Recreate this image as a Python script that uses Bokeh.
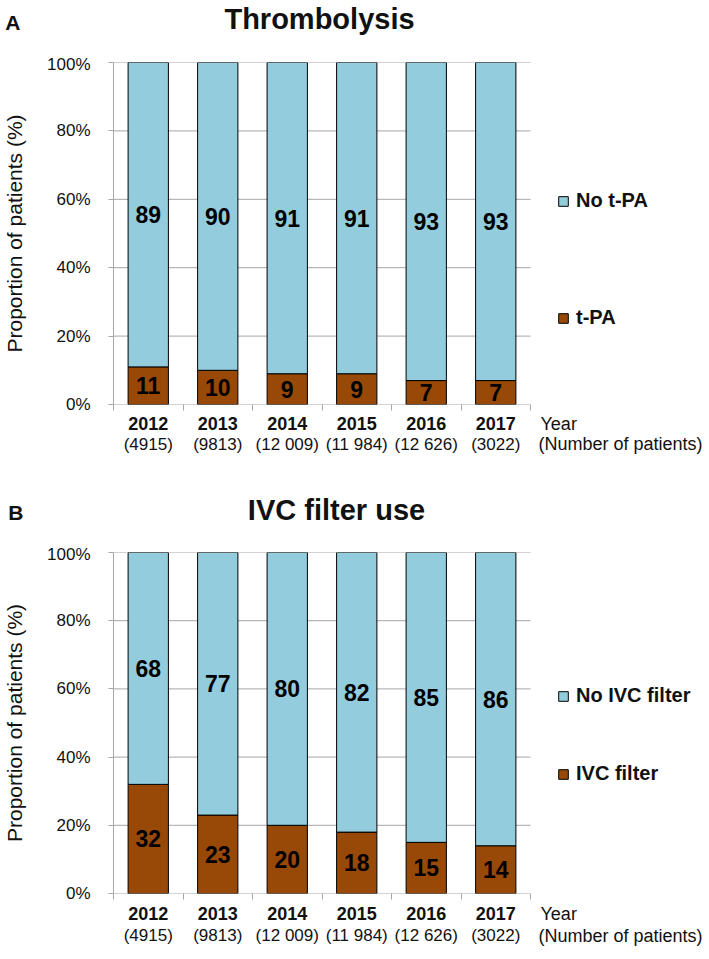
from bokeh.plotting import figure
from bokeh.models import (Range1d, LinearAxis, FixedTicker,
                          NumeralTickFormatter, Legend, LegendItem, ColumnDataSource)
from bokeh.layouts import column
from bokeh.core.properties import value
from bokeh.embed import file_html
from bokeh.resources import INLINE

# ---------------- data ----------------
years = ["2012", "2013", "2014", "2015", "2016", "2017"]
patients = ["(4915)", "(9813)", "(12 009)", "(11 984)", "(12 626)", "(3022)"]

tpa = [11, 10, 9, 9, 7, 7]
no_tpa = [89, 90, 91, 91, 93, 93]

ivc_filter = [32, 23, 20, 18, 15, 14]
no_ivc_filter = [68, 77, 80, 82, 85, 86]

y_ticks = [0, 0.2, 0.4, 0.6, 0.8, 1.0]

BLUE = "#93CDDD"
BROWN = "#984807"
GRID = "#A6A6A6"
TXT = "#111111"
FONT = "Liberation Sans"

W = 709             # page width
LEFT = 110          # left border of the plotting frame (px)
BAR_AREA_W = 417    # width of the region holding the six bars
FRAME_W = 595       # frame also holds the legend area on the right
RIGHT = W - LEFT - FRAME_W

n = len(years)
xpos = [i + 0.5 for i in range(n)]
bounds = list(range(n + 1))
ppu = BAR_AREA_W / n                      # pixels per category slot
x_end = FRAME_W / ppu


def px(page_x):
    """page pixel -> x data coordinate (layout helper for text bands)"""
    return (page_x - LEFT) / ppu


def band(height, with_yaxis=False):
    f = figure(x_range=Range1d(0, x_end), y_range=Range1d(height, 0),
               frame_width=FRAME_W, frame_height=height,
               output_backend="svg", toolbar_location=None,
               x_axis_location=None,
               y_axis_location="left" if with_yaxis else None,
               min_border_left=LEFT, min_border_right=RIGHT,
               min_border_top=0, min_border_bottom=0)
    f.outline_line_color = None
    f.grid.visible = False
    return f


def title_band(letter, title, height, letter_y, letter_standoff, title_x, title_y):
    f = band(height, with_yaxis=True)
    ya = f.yaxis[0]
    ya.ticker = FixedTicker(ticks=[letter_y])
    ya.major_label_overrides = {letter_y: letter}
    ya.axis_line_color = None
    ya.major_tick_line_color = None
    ya.minor_tick_line_color = None
    ya.major_tick_out = 0
    ya.major_tick_in = 0
    ya.major_label_standoff = letter_standoff
    ya.major_label_text_font = FONT
    ya.major_label_text_font_size = "21px"
    ya.major_label_text_font_style = "bold"
    ya.major_label_text_color = TXT
    f.text(x=[px(title_x)], y=[title_y], text=[title], text_font=value(FONT),
           text_font_size="29px", text_font_style="bold", text_color=TXT,
           text_align="center", text_baseline="middle")
    return f


def label_band(height, year_y, count_y):
    f = band(height)
    src = ColumnDataSource(dict(x=xpos, year=years, count=patients))
    f.text(x="x", y=year_y, text="year", source=src, text_font=value(FONT),
           text_font_size="18px", text_font_style="bold", text_color=TXT,
           text_align="center", text_baseline="middle")
    f.text(x="x", y=count_y, text="count", source=src, text_font=value(FONT),
           text_font_size="17px", text_color=TXT,
           text_align="center", text_baseline="middle")
    f.text(x=[px(537), px(535)], y=[year_y, count_y],
           text=["Year", "(Number of patients)"], text_font=value(FONT),
           text_font_size="18px", text_color=TXT,
           text_align="left", text_baseline="middle")
    return f


def chart(lower, upper, lower_name, upper_name, frame_h,
          legend_spacing, legend_y, top=8, bottom=10):
    src = ColumnDataSource(dict(
        x=xpos,
        lo=[v / 100 for v in lower],
        hi=[(a + b) / 100 for a, b in zip(lower, upper)],
        lo_mid=[v / 200 for v in lower],
        hi_mid=[(a + b / 2) / 100 for a, b in zip(lower, upper)],
        lo_txt=[str(v) for v in lower],
        hi_txt=[str(v) for v in upper],
    ))
    p = figure(x_range=Range1d(0, x_end), y_range=Range1d(0, 1),
               frame_width=FRAME_W, frame_height=frame_h,
               output_backend="svg", toolbar_location=None,
               x_axis_location=None,
               min_border_left=LEFT, min_border_right=RIGHT,
               min_border_top=top, min_border_bottom=bottom)
    p.outline_line_color = None
    p.grid.visible = False

    ya = p.yaxis[0]
    ya.ticker = FixedTicker(ticks=y_ticks)
    ya.formatter = NumeralTickFormatter(format="0%")
    ya.major_label_text_font = FONT
    ya.major_label_text_font_size = "17px"
    ya.major_label_text_color = TXT
    ya.major_label_standoff = 18
    ya.major_tick_out = 5
    ya.major_tick_in = 0
    ya.minor_tick_out = 0
    ya.minor_tick_in = 0
    ya.axis_line_color = GRID
    ya.major_tick_line_color = GRID
    ya.axis_label = "Proportion of patients (%)"
    ya.axis_label_text_font = FONT
    ya.axis_label_text_font_size = "21px"
    ya.axis_label_text_font_style = "normal"
    ya.axis_label_text_color = TXT
    ya.axis_label_standoff = 18

    # horizontal gridlines across the bar area only
    p.segment(x0=0, x1=n, y0=y_ticks, y1=y_ticks, line_color=GRID, line_width=1)

    # tick marks at the category boundaries below the baseline
    bx = LinearAxis(ticker=FixedTicker(ticks=bounds),
                    major_label_text_font_size="1px",
                    major_label_text_color=None, major_label_standoff=0,
                    major_tick_out=6, major_tick_in=0,
                    minor_tick_out=0, minor_tick_in=0,
                    axis_line_color=None, major_tick_line_color=GRID)
    p.add_layout(bx, "below")

    r_lo = p.vbar(x="x", bottom=0, top="lo", width=0.58, source=src,
                  fill_color=BROWN, line_color="black", line_width=1)
    r_hi = p.vbar(x="x", bottom="lo", top="hi", width=0.58, source=src,
                  fill_color=BLUE, line_color="black", line_width=1)

    for ycol, tcol in (("lo_mid", "lo_txt"), ("hi_mid", "hi_txt")):
        p.text(x="x", y=ycol, text=tcol, source=src,
               text_align="center", text_baseline="middle",
               text_font=value(FONT), text_font_size="23px",
               text_font_style="bold", text_color="black")

    legend = Legend(items=[LegendItem(label=upper_name, renderers=[r_hi]),
                           LegendItem(label=lower_name, renderers=[r_lo])],
                    location=(444, legend_y),
                    glyph_width=12, glyph_height=12,
                    label_height=20, label_standoff=7,
                    label_text_font=FONT, label_text_font_size="20px",
                    label_text_font_style="bold", label_text_color=TXT,
                    spacing=legend_spacing, padding=0, margin=0,
                    border_line_color=None, background_fill_alpha=0)
    p.add_layout(legend, "center")
    return p


panel_a = [
    title_band("A", "Thrombolysis", 54, 22, 93, 316, 18),
    chart(tpa, no_tpa, "t-PA", "No t-PA", 342, 94, 75),
    label_band(76, 9, 29.5),
]
panel_b = [
    title_band("B", "IVC filter use", 54, 22, 90, 333, 19),
    chart(ivc_filter, no_ivc_filter, "IVC filter", "No IVC filter", 341, 55, 108),
    label_band(56, 10, 32),
]

layout = column(*panel_a, *panel_b, spacing=0)
open("out.html", "w").write(file_html(layout, INLINE))
